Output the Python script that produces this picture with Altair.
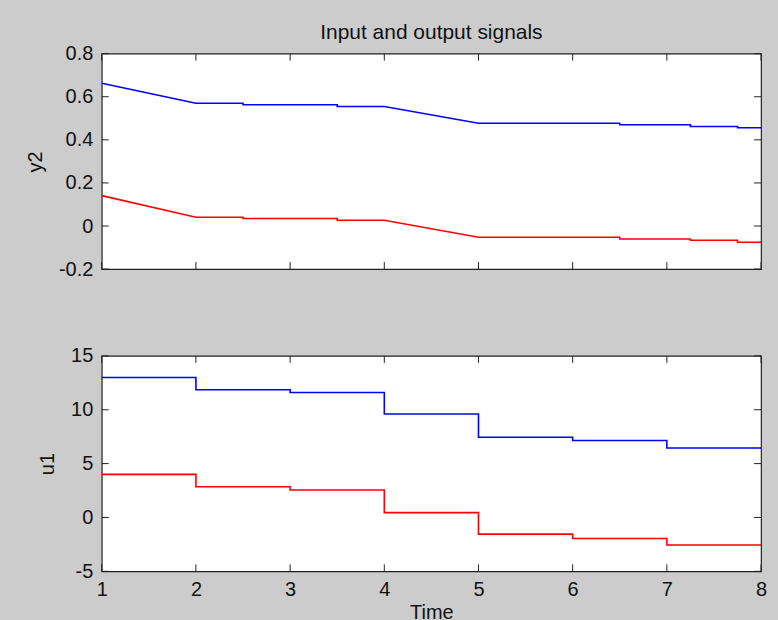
import altair as alt
import pandas as pd

# ---- data ----
title_text = "Input and output signals"

# output y2 (drawn as a line)
y2_time = [1, 2, 2.5, 2.5, 3.5, 3.5, 4, 5, 6.5, 6.5, 7.25, 7.25, 7.75, 7.75, 8]
y2_blue = [0.663, 0.570, 0.570, 0.563, 0.563, 0.555, 0.555, 0.477, 0.477,
           0.470, 0.470, 0.462, 0.462, 0.456, 0.456]
y2_red = [0.141, 0.041, 0.041, 0.035, 0.035, 0.027, 0.027, -0.052, -0.052,
          -0.060, -0.060, -0.066, -0.066, -0.075, -0.075]

# input u1 (drawn as stairs)
u1_time = [1, 2, 3, 4, 5, 6, 7, 8]
u1_blue = [13.0, 11.85, 11.6, 9.6, 7.45, 7.15, 6.45, 6.45]
u1_red = [4.0, 2.85, 2.55, 0.45, -1.55, -1.95, -2.55, -2.55]

x_ticks = [1, 2, 3, 4, 5, 6, 7, 8]
y2_ticks = [-0.2, 0, 0.2, 0.4, 0.6, 0.8]
u1_ticks = [-5, 0, 5, 10, 15]

series_names = ["blue", "red"]
series_colors = ["#0000ff", "#ff0000"]

FONT = "Liberation Sans"
FS = 20
W, H = 661, 216
TICK = 7

def long_df(t, a, b):
    rows = []
    for i, (tt, va) in enumerate(zip(t, a)):
        rows.append({"t": tt, "v": va, "s": "blue", "o": i})
    for i, (tt, vb) in enumerate(zip(t, b)):
        rows.append({"t": tt, "v": vb, "s": "red", "o": i})
    return pd.DataFrame(rows)

top_df = long_df(y2_time, y2_blue, y2_red)
bot_df = long_df(u1_time, u1_blue, u1_red)
xt_df = pd.DataFrame({"t": x_ticks})


def panel(df, ydomain, yticks, ytitle, interp, show_x):
    xscale = alt.Scale(domain=[1, 8], nice=False, zero=False)
    yscale = alt.Scale(domain=ydomain, nice=False, zero=False)
    if show_x:
        xaxis = alt.Axis(values=x_ticks, title="Time", ticks=False, tickSize=0,
                         domain=False, grid=False, labelPadding=8, titlePadding=3,
                         labelFlush=False)
    else:
        xaxis = None
    yaxis = alt.Axis(values=yticks, title=ytitle, ticks=False, tickSize=0,
                     domain=False, grid=False, labelPadding=9, titlePadding=13,
                     labelExpr="'' + datum.value", labelFlush=False)
    X = alt.X("t:Q", scale=xscale, axis=xaxis)
    Y = alt.Y("v:Q", scale=yscale, axis=yaxis)

    lines = alt.Chart(df).mark_line(strokeWidth=1.6, interpolate=interp).encode(
        x=X, y=Y,
        color=alt.Color("s:N", scale=alt.Scale(domain=series_names, range=series_colors),
                        legend=None),
        order="o:Q",
    )
    yt_df = pd.DataFrame({"v": yticks})
    tb = alt.Chart(xt_df).mark_rule(color="#222", strokeWidth=1).encode(
        x=X, y=alt.value(H), y2=alt.value(H - TICK))
    tt = alt.Chart(xt_df).mark_rule(color="#222", strokeWidth=1).encode(
        x=X, y=alt.value(0), y2=alt.value(TICK))
    tl = alt.Chart(yt_df).mark_rule(color="#222", strokeWidth=1).encode(
        y=Y, x=alt.value(0), x2=alt.value(TICK))
    tr = alt.Chart(yt_df).mark_rule(color="#222", strokeWidth=1).encode(
        y=Y, x=alt.value(W), x2=alt.value(W - TICK))
    return alt.layer(lines, tb, tt, tl, tr).properties(width=W, height=H)


top = panel(top_df, [-0.2, 0.8], y2_ticks, "y2", "linear", False).properties(
    title=alt.TitleParams(title_text, fontSize=21, font=FONT, fontWeight="normal",
                          color="#111", offset=1, anchor="middle", frame="group"))
bot = panel(bot_df, [-5, 15], u1_ticks, "u1", "step-after", True)

chart = alt.vconcat(top, bot, spacing=87, bounds="flush").properties(
    background="#cccccc",
    padding={"left": 24, "top": 20, "right": 10, "bottom": -3},
).configure_view(
    fill="white", stroke="#222", strokeWidth=1.2
).configure_axis(
    labelFont=FONT, titleFont=FONT, labelFontSize=FS, titleFontSize=FS,
    labelColor="#111", titleColor="#111", titleFontWeight="normal"
)

chart.save("out.html", embed_options={"renderer": "svg", "actions": False})
